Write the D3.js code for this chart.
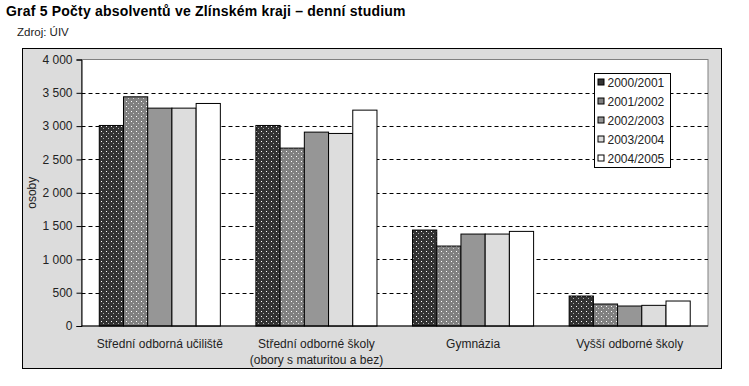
<!DOCTYPE html>
<html>
<head>
<meta charset="utf-8">
<script src="https://cdn.jsdelivr.net/npm/d3@7"></script>
<style>
  body { margin: 0; background: #fff; }
  text { font-family: "Liberation Sans", Arial, sans-serif; }
</style>
</head>
<body>
<svg id="chart" width="749" height="386"></svg>
<script>
let categories = ["Střední odborná učiliště", "Střední odborné školy|(obory s maturitou a bez)", "Gymnázia", "Vyšší odborné školy"]
let years = ["2000/2001", "2001/2002", "2002/2003", "2003/2004", "2004/2005"]
let values = {
    "2000/2001": [3010, 3010, 1440, 450],
    "2001/2002": [3440, 2670, 1200, 330],
    "2002/2003": [3270, 2910, 1380, 300],
    "2003/2004": [3270, 2890, 1380, 310],
    "2004/2005": [3340, 3240, 1420, 375]
}
let yTicks = [0, 500, 1000, 1500, 2000, 2500, 3000, 3500, 4000]
let fills = ["#333333", "#808080", "#969696", "#dddddd", "#ffffff"]
let dotted = [true, true, false, false, false]

let svg = d3.select('#chart')
let m = {l: 81.5, r: 708, t: 59.5, b: 326}

let defs = svg.append('defs')
fills.forEach((c, i) => {
    if (!dotted[i]) return
    let p = defs.append('pattern')
        .attr('id', 'dots' + i)
        .attr('patternUnits', 'userSpaceOnUse')
        .attr('width', 5).attr('height', 5)
    p.append('rect').attr('width', 5).attr('height', 5).attr('fill', c)
    p.append('rect').attr('x', 1).attr('y', 1).attr('width', 1).attr('height', 1).attr('fill', '#fff')
    p.append('rect').attr('x', 3).attr('y', 3).attr('width', 1).attr('height', 1).attr('fill', '#fff').attr('opacity', 0.6)
})
let fillOf = i => dotted[i] ? `url(#dots${i})` : fills[i]

svg.append('text')
    .attr('x', 6).attr('y', 16)
    .attr('font-size', 14).attr('font-weight', 'bold')
    .attr('letter-spacing', 0.2)
    .text('Graf 5 Počty absolventů ve Zlínském kraji – denní studium')

svg.append('text')
    .attr('x', 17).attr('y', 36)
    .attr('font-size', 11.5).attr('fill', '#222')
    .text('Zdroj: ÚIV')

// outer chart area
svg.append('rect')
    .attr('x', 22.5).attr('y', 48.5)
    .attr('width', 699).attr('height', 320)
    .attr('fill', '#dcdcdc').attr('stroke', '#000').attr('stroke-width', 1)

svg.append('rect')
    .attr('x', m.l).attr('y', m.t)
    .attr('width', m.r - m.l).attr('height', m.b - m.t)
    .attr('fill', '#fff').attr('stroke', '#808080')

let x0 = d3.scaleBand().domain(categories).range([m.l, m.r]).paddingInner(0.227).paddingOuter(0.1135)
let x1 = d3.scaleBand().domain(years).range([0, x0.bandwidth()])
let y = d3.scaleLinear().domain([0, 4000]).range([m.b, m.t])

// gridlines
svg.append('g')
    .selectAll('line')
    .data(yTicks.filter(t => t > 0 && t < 4000))
    .join('line')
    .attr('x1', m.l).attr('x2', m.r)
    .attr('y1', d => Math.round(y(d)) + 0.5).attr('y2', d => Math.round(y(d)) + 0.5)
    .attr('stroke', '#000').attr('stroke-dasharray', '4,3')

// bars
years.forEach((yr, i) => {
    svg.append('g')
        .selectAll('rect')
        .data(values[yr])
        .join('rect')
        .attr('x', (d, j) => x0(categories[j]) + x1(yr))
        .attr('y', d => y(d))
        .attr('width', x1.bandwidth())
        .attr('height', d => m.b - y(d))
        .attr('fill', fillOf(i))
        .attr('stroke', '#000').attr('stroke-width', 1)
})

// y axis
let yAxis = svg.append('g')
    .attr('transform', `translate(${m.l}, 0)`)
    .call(d3.axisLeft(y).tickValues(yTicks).tickSize(5)
        .tickFormat(d => d3.format(',')(d).replace(',', ' ')))
yAxis.select('.domain').attr('stroke', '#000')
yAxis.selectAll('text').attr('font-size', 12).attr('fill', '#222').attr('x', -9)
yAxis.selectAll('text').style('font-family', '"Liberation Sans", Arial, sans-serif')

svg.append('line')
    .attr('x1', m.l).attr('x2', m.r).attr('y1', m.b).attr('y2', m.b)
    .attr('stroke', '#000')

svg.append('text')
    .attr('transform', `translate(36, ${(m.t + m.b) / 2}) rotate(-90)`)
    .attr('text-anchor', 'middle')
    .attr('font-size', 12).attr('fill', '#222')
    .text('osoby')

// category labels
let cl = svg.append('g')
    .selectAll('text')
    .data(categories)
    .join('text')
    .attr('x', d => x0(d) + x0.bandwidth() / 2)
    .attr('y', 348)
    .attr('text-anchor', 'middle')
    .attr('font-size', 12).attr('fill', '#222')
cl.selectAll('tspan')
    .data(d => d.split('|'))
    .join('tspan')
    .attr('x', function() { return d3.select(this.parentNode).attr('x') })
    .attr('dy', (d, i) => i ? 16 : 0)
    .text(d => d)

// legend
let lg = svg.append('g').attr('transform', 'translate(594.5, 73.5)')
lg.append('rect')
    .attr('width', 76).attr('height', 94)
    .attr('fill', '#fff').attr('stroke', '#000')
years.forEach((yr, i) => {
    lg.append('rect')
        .attr('x', 3.5).attr('y', 5.5 + i * 19)
        .attr('width', 6).attr('height', 6)
        .attr('fill', fills[i]).attr('stroke', '#000')
    lg.append('text')
        .attr('x', 13).attr('y', 13 + i * 19)
        .attr('font-size', 12).attr('fill', '#222')
        .text(yr)
})
</script>
</body>
</html>
